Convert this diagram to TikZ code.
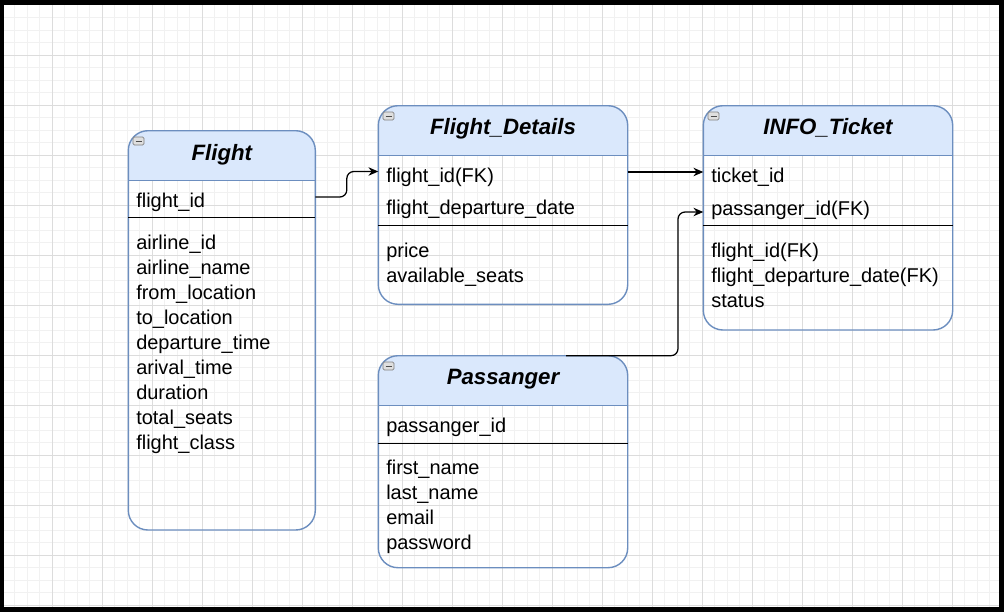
\documentclass[tikz,border=0pt]{standalone}
\usepackage{fontspec}
\setmainfont{Liberation Sans}
\usetikzlibrary{arrows.meta}

\definecolor{hdfill}{HTML}{DAE8FC}
\definecolor{hdline}{HTML}{6C8EBF}
\definecolor{gridminor}{HTML}{F1F1F1}
\definecolor{gridmajor}{HTML}{DCDCDC}

\tikzset{
  entline/.style={draw=hdline, line width=1pt, rounded corners=14pt},
  hdsep/.style={draw=hdline, line width=1pt},
  sepline/.style={draw=black, line width=0.8pt},
  iconbox/.style={draw=gray, fill=gray!25, line width=0.5pt, rounded corners=1pt},
  title/.style={anchor=base, inner sep=0pt, font=\fontsize{15.8}{18}\selectfont\bfseries\itshape},
  attr/.style={anchor=base west, inner sep=0pt, font=\fontsize{14.2}{17}\selectfont},
  fk/.style={draw=black, line width=0.9pt, rounded corners=5pt, -{Stealth[length=7pt,width=6pt]}}
}

\begin{document}
\begin{tikzpicture}[x=0.025cm, y=-0.025cm]
        \useasboundingbox (0,0) rectangle (1004,612);

        % Frame and grid paper
        \fill[black] (0,0) rectangle (1004,612);
        \fill[white] (4,5) rectangle (999,607);
        \foreach \gx in {14.5,27,...,999} \draw[gridminor, line width=0.7pt] (\gx,5) -- (\gx,607);
        \foreach \gy in {17.5,30,...,607} \draw[gridminor, line width=0.7pt] (4,\gy) -- (999,\gy);
        \foreach \gx in {52,102,...,952} \draw[gridmajor, line width=0.7pt] (\gx,5) -- (\gx,607);
        \foreach \gy in {55,105,...,605} \draw[gridmajor, line width=0.7pt] (4,\gy) -- (999,\gy);

        % Flight
        \begin{scope}
          \clip (128.3,130.7) rectangle (315.3,180.7);
          \fill[hdfill, rounded corners=14pt] (128.3,130.7) rectangle (315.3,530);
        \end{scope}
        \draw[entline] (128.3,130.7) rectangle (315.3,530);
        \draw[hdsep] (128.3,180.7) -- (315.3,180.7);
        \draw[sepline] (128.3,217.7) -- (315.3,217.7);
        \draw[iconbox] (133,137) rectangle (144,145);
        \draw[black!70] (135.5,141) -- (141.5,141);
        \node[title] (flight-title) at (221.8,160) {Flight};
        \node[attr] (flight-id) at (136,207.5) {flight\_id};
        \node[attr] (flight-airline) at (136,249.5) {airline\_id};
        \node[attr] (flight-aname) at (136,274.5) {airline\_name};
        \node[attr] (flight-from) at (136,299.5) {from\_location};
        \node[attr] (flight-to) at (136,324.5) {to\_location};
        \node[attr] (flight-dep) at (136,349.5) {departure\_time};
        \node[attr] (flight-arr) at (136,374.5) {arival\_time};
        \node[attr] (flight-dur) at (136,399.5) {duration};
        \node[attr] (flight-seats) at (136,424.5) {total\_seats};
        \node[attr] (flight-class) at (136,449.5) {flight\_class};

        % Flight_Details
        \begin{scope}
          \clip (378.3,105.7) rectangle (627.7,155.7);
          \fill[hdfill, rounded corners=14pt] (378.3,105.7) rectangle (627.7,304.3);
        \end{scope}
        \draw[entline] (378.3,105.7) rectangle (627.7,304.3);
        \draw[hdsep] (378.3,155.7) -- (627.7,155.7);
        \draw[sepline] (378.3,225.7) -- (627.7,225.7);
        \draw[iconbox] (383,112) rectangle (394,120);
        \draw[black!70] (385.5,116) -- (391.5,116);
        \node[title] (details-title) at (503,134.7) {Flight\_Details};
        \node[attr] (details-fid) at (386,182.7) {flight\_id(FK)};
        \node[attr] (details-date) at (386,214.3) {flight\_departure\_date};
        \node[attr] (details-price) at (386,257.3) {price};
        \node[attr] (details-seats) at (386,282.3) {available\_seats};

        % INFO_Ticket
        \begin{scope}
          \clip (703.3,105.7) rectangle (952.7,155.7);
          \fill[hdfill, rounded corners=14pt] (703.3,105.7) rectangle (952.7,330);
        \end{scope}
        \draw[entline] (703.3,105.7) rectangle (952.7,330);
        \draw[hdsep] (703.3,155.7) -- (952.7,155.7);
        \draw[sepline] (703.3,225.7) -- (952.7,225.7);
        \draw[iconbox] (708,112) rectangle (719,120);
        \draw[black!70] (710.5,116) -- (716.5,116);
        \node[title] (ticket-title) at (828,134.7) {INFO\_Ticket};
        \node[attr] (ticket-id) at (711,182.7) {ticket\_id};
        \node[attr] (ticket-pid) at (711,215) {passanger\_id(FK)};
        \node[attr] (ticket-fid) at (711,257.5) {flight\_id(FK)};
        \node[attr] (ticket-date) at (711,282.5) {flight\_departure\_date(FK)};
        \node[attr] (ticket-status) at (711,307.2) {status};

        % Passanger
        \begin{scope}
          \clip (378.3,355.7) rectangle (627.7,405.7);
          \fill[hdfill, rounded corners=14pt] (378.3,355.7) rectangle (627.7,567.7);
        \end{scope}
        \draw[entline] (378.3,355.7) rectangle (627.7,567.7);
        \draw[hdsep] (378.3,405.7) -- (627.7,405.7);
        \draw[sepline] (378.3,443.3) -- (627.7,443.3);
        \draw[iconbox] (383,362) rectangle (394,370);
        \draw[black!70] (385.5,366) -- (391.5,366);
        \node[title] (pass-title) at (503,384.3) {Passanger};
        \node[attr] (pass-id) at (386,432.7) {passanger\_id};
        \node[attr] (pass-first) at (386,474) {first\_name};
        \node[attr] (pass-last) at (386,499.2) {last\_name};
        \node[attr] (pass-email) at (386,524.2) {email};
        \node[attr] (pass-pwd) at (386,549.2) {password};

        % Connector ends on the box edges
        \coordinate (flight-out) at (315.3,197);
        \coordinate (details-in) at (378.3,171.5);
        \coordinate (details-out) at (627.7,172);
        \coordinate (ticket-in) at (703.3,172);
        \coordinate (pass-out) at (566,355.7);
        \coordinate (ticket-fk) at (703.3,212);

        % Foreign key links
        \draw[fk] (flight-out) -- ++(31.5,0) |- (details-in);
        \draw[fk] (details-out) -- (ticket-in);
        \draw[fk] (pass-out) -- ++(112,0) |- (ticket-fk);

\end{tikzpicture}
\end{document}
